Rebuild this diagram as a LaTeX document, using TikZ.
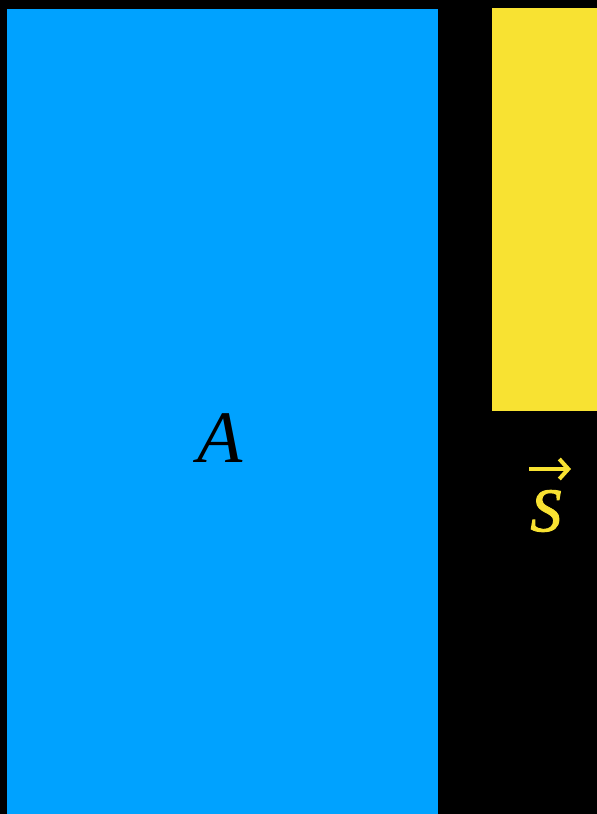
\documentclass[tikz,border=0pt]{standalone}
\usepackage{fontspec}
\setmainfont{Liberation Serif}
\newfontfamily\heavyserif[FakeBold=1.6]{Liberation Serif}
\usepackage{xcolor}
\usetikzlibrary{arrows.meta,positioning}

\definecolor{panelblue}{RGB}{0,162,255}
\definecolor{panelyellow}{RGB}{248,226,50}

\begin{document}
\begin{tikzpicture}[
  x=1pt, y=-1pt,
  panel/.style={draw=none},
  lbl/.style={font=\fontsize{74}{80}\selectfont\itshape, inner sep=0pt},
  slbl/.style={font=\fontsize{62}{62}\heavyserif\itshape, text=panelyellow, inner sep=0pt},
  vecarr/.style={-{Straight Barb[length=9pt, width=20pt]}, line width=4pt, panelyellow},
]

%% -- background and bounding box ------------------------------------------
\fill[black] (0,0) rectangle (597,814);
\useasboundingbox (0,0) rectangle (597,814);

%% -- panels ---------------------------------------------------------------
\fill[panel, panelblue] (7,9) rectangle (438,814);
\fill[panel, panelyellow] (492,8) rectangle (597,411);

%% -- labels ---------------------------------------------------------------
\node[lbl] (A) at (220,438) {A};
\node[slbl] (S) at (546,511) {S};

%% vector arrow over S
\coordinate (sarrow-tail) at (529,469);
\coordinate (sarrow-head) at (571,469);
\draw[vecarr] (sarrow-tail) -- (sarrow-head);

\end{tikzpicture}
\end{document}
